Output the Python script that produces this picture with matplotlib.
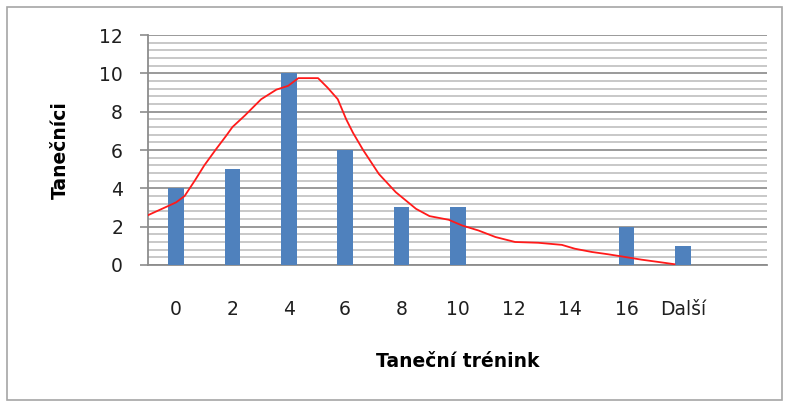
import matplotlib
matplotlib.use("Agg")
import matplotlib.pyplot as plt
from matplotlib.patches import Rectangle
from matplotlib.ticker import MultipleLocator

plt.rcParams["font.family"] = ["DejaVu Sans"]

# histogram classes and counts
categories = ["0", "2", "4", "6", "8", "10", "12", "14", "16", "Další"]
counts = [4, 5, 10, 6, 3, 3, 0, 0, 2, 1]

# red trend curve (x in category units)
curve_x = [-0.5, -0.2, 0.0, 0.15, 0.33, 0.5, 0.71, 0.89, 1.0, 1.22, 1.51, 1.78, 1.99,
           2.17, 2.52, 2.69, 2.87, 3.02, 3.14, 3.32, 3.6, 3.9, 4.26, 4.5, 4.84, 5.08,
           5.37, 5.67, 6.02, 6.43, 6.85, 7.08, 7.38, 7.67, 7.97, 8.26, 8.56, 8.85]
curve_y = [2.6, 3.0, 3.27, 3.6, 4.4, 5.2, 6.05, 6.75, 7.2, 7.8, 8.65, 9.15, 9.35,
           9.75, 9.75, 9.25, 8.65, 7.6, 6.9, 6.0, 4.75, 3.8, 2.93, 2.55, 2.36, 2.06,
           1.8, 1.46, 1.2, 1.16, 1.05, 0.85, 0.68, 0.56, 0.42, 0.28, 0.16, 0.04]

fig = plt.figure(figsize=(7.89, 4.08), dpi=100)
ax = fig.add_axes([0.1876, 0.3505, 0.785, 0.5637])

# outer frame of the chart
fig.patches.append(Rectangle((0.009, 0.02), 0.982, 0.963, transform=fig.transFigure,
                             fill=False, edgecolor="#a6a6a6", linewidth=1.2))

x = list(range(len(categories)))
ax.bar(x, counts, width=0.28, color="#4F81BD", zorder=3)
ax.plot(curve_x, curve_y, color="#ff1a1a", linewidth=1.3, zorder=4)

ax.set_xlim(-0.5, 10.5)
ax.set_ylim(0, 12)
ax.yaxis.set_major_locator(MultipleLocator(2))
ax.yaxis.set_minor_locator(MultipleLocator(0.4))
ax.grid(which="major", axis="y", color="#9a9a9a", linewidth=1.4, zorder=0)
ax.grid(which="minor", axis="y", color="#c8c8c8", linewidth=1.4, zorder=0)
ax.set_axisbelow(True)

ax.set_xticks(x)
ax.set_xticklabels(categories)
ax.tick_params(axis="x", length=0, pad=25, labelsize=13.5, colors="#1f1f1f")
ax.tick_params(axis="y", which="major", length=6, width=1.2, color="#8c8c8c",
               pad=12, labelsize=13.5, labelcolor="#1f1f1f")
ax.tick_params(axis="y", which="minor", length=0)

for s in ["top", "right"]:
    ax.spines[s].set_visible(False)
ax.spines["left"].set_color("#8c8c8c")
ax.spines["left"].set_linewidth(1.3)
ax.spines["bottom"].set_color("#8c8c8c")
ax.spines["bottom"].set_linewidth(1.3)

ax.set_ylabel("Tanečníci", fontsize=13.5, fontweight="bold", labelpad=21)
ax.set_xlabel("Taneční trénink", fontsize=13.5, fontweight="bold", labelpad=24)

fig.savefig("out.png", dpi=100)
